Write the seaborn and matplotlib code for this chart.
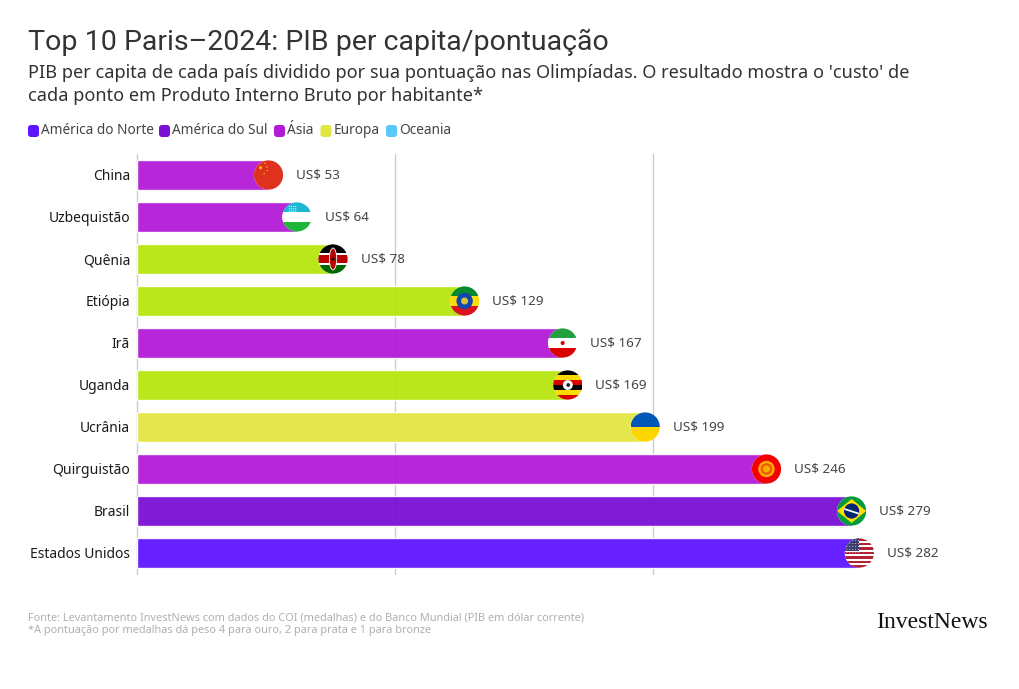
import seaborn as sns
import pandas as pd
import matplotlib.pyplot as plt
from matplotlib.patches import Ellipse, Rectangle, Polygon, FancyBboxPatch

paises = ["China", "Uzbequistão", "Quênia", "Etiópia", "Irã", "Uganda", "Ucrânia", "Quirguistão", "Brasil", "Estados Unidos"]
valores = [53, 64, 78, 129, 167, 169, 199, 246, 279, 282]
continentes = ["Ásia", "Ásia", "África", "África", "Ásia", "África", "Europa", "Ásia", "América do Sul", "América do Norte"]
legenda = ["América do Norte", "América do Sul", "Ásia", "Europa", "Oceania"]
cores = {
    "América do Norte": "#5f14ff",
    "América do Sul": "#7a10d4",
    "Ásia": "#b31ad6",
    "África": "#b5e60f",
    "Europa": "#e2e643",
    "Oceania": "#5ac8fa",
}

titulo = "Top 10 Paris\u20132024: PIB per capita/pontuação"
subtitulo = ["PIB per capita de cada país dividido por sua pontuação nas Olimpíadas. O resultado mostra o 'custo' de",
             "cada ponto em Produto Interno Bruto por habitante*"]
fonte = ["Fonte: Levantamento InvestNews com dados do COI (medalhas) e do Banco Mundial (PIB em dólar corrente)",
         "*A pontuação por medalhas dá peso 4 para ouro, 2 para prata e 1 para bronze"]

# faixas horizontais de cada bandeira, de cima para baixo (cor, altura relativa)
faixas = {
    "China": [("#e0301e", 1)],
    "Uzbequistão": [("#1eb5d0", 32), ("#ce1126", 1), ("#ffffff", 30), ("#ce1126", 1), ("#1eb53a", 32)],
    "Quênia": [("#000000", 6), ("#ffffff", 1), ("#bb0000", 6), ("#ffffff", 1), ("#006600", 6)],
    "Etiópia": [("#078930", 1), ("#fcdd09", 1), ("#da121a", 1)],
    "Irã": [("#239f40", 1), ("#ffffff", 1), ("#da0000", 1)],
    "Uganda": [("#000000", 1), ("#fcdc04", 1), ("#d90000", 1), ("#000000", 1), ("#fcdc04", 1), ("#d90000", 1)],
    "Ucrânia": [("#0057b7", 1), ("#ffd700", 1)],
    "Quirguistão": [("#f50000", 1)],
    "Brasil": [("#009b3a", 1)],
    "Estados Unidos": [("#b22234", 1), ("#ffffff", 1)] * 6 + [("#b22234", 1)],
}

sns.set_style("white")
plt.rcParams["font.family"] = ["Noto Sans", "DejaVu Sans"]

df = pd.DataFrame({"pais": paises, "valor": valores, "continente": continentes})

fig = plt.figure(figsize=(10.2, 6.89), dpi=100)
ax = fig.add_axes([137 / 1020, 1 - 574 / 689, 863 / 1020, 420 / 689])

sns.barplot(ax=ax, data=df, y="pais", x="valor", hue="continente", palette=cores, dodge=False,
            width=0.7, alpha=0.95, legend=False, saturation=1, zorder=2)

px_x = 863 / 334.5  # pixels por US$
ax.set_xlim(0, 334.5)
ax.set_ylim(9.5, -0.5)
ax.set_xticks([0, 100, 200])
ax.set_xticklabels([])
ax.set_xlabel("")
ax.set_ylabel("")
ax.grid(axis="x", color="#cccccc", linewidth=1)
ax.grid(axis="y", visible=False)
ax.set_axisbelow(True)
sns.despine(ax=ax, left=True, bottom=True, right=True, top=True)
ax.tick_params(axis="y", length=0, pad=5, labelsize=10, labelcolor="#1a1a1a")
ax.tick_params(axis="x", length=0)
for g in ax.get_xgridlines():
    g.set_clip_on(False)

rx = 14.6 / px_x
ry = 14.6 / 42
recuo = 5.2 / px_x


def desenha_bandeira(pais, cx, cy):
    disco = Ellipse((cx, cy), 2 * rx, 2 * ry, facecolor="white", edgecolor="none", zorder=3)
    ax.add_patch(disco)
    pecas = []

    def poe(p):
        p.set_zorder(4)
        ax.add_patch(p)
        p.set_clip_path(disco)
        pecas.append(p)

    def ponto(lx, ly, r, cor):
        poe(Ellipse((cx + lx * rx, cy + ly * ry), 2 * r * rx, 2 * r * ry, facecolor=cor, edgecolor="none"))

    total = sum(f[1] for f in faixas[pais])
    topo = -1.0
    for cor, h in faixas[pais]:
        alt = 2 * h / total
        poe(Rectangle((cx - rx, cy + topo * ry), 2 * rx, alt * ry, facecolor=cor, edgecolor="none"))
        topo += alt

    if pais == "China":
        ponto(-0.55, -0.5, 0.11, "#f5b81e")
        for lx, ly in [(-0.25, -0.8), (-0.1, -0.55), (-0.1, -0.3), (-0.3, -0.1)]:
            ponto(lx, ly, 0.05, "#f5b81e")
    elif pais == "Uzbequistão":
        for lx in [-0.5, -0.36, -0.22, -0.08]:
            for ly in [-0.72, -0.56, -0.4]:
                ponto(lx, ly, 0.04, "#ffffff")
    elif pais == "Quênia":
        poe(Ellipse((cx, cy), 0.5 * rx, 1.5 * ry, facecolor="#bb0000", edgecolor="#ffffff", linewidth=0.6))
        ponto(0, 0, 0.1, "#000000")
    elif pais == "Etiópia":
        ponto(0, 0, 0.56, "#0f47af")
        ponto(0, 0, 0.24, "#d8c23a")
    elif pais == "Irã":
        ponto(0, 0, 0.14, "#da0000")
    elif pais == "Uganda":
        ponto(0, 0, 0.34, "#ffffff")
        ponto(0.03, 0.0, 0.13, "#222222")
    elif pais == "Quirguistão":
        ponto(0, 0, 0.56, "#ffae00")
        ponto(0, 0, 0.4, "#f05a00")
        ponto(0, 0, 0.24, "#ffae00")
    elif pais == "Brasil":
        poe(Polygon([(cx - rx, cy), (cx, cy - 0.82 * ry), (cx + rx, cy), (cx, cy + 0.82 * ry)],
                    facecolor="#fedf00", edgecolor="none"))
        ponto(0, 0, 0.52, "#002776")
        poe(Polygon([(cx - 0.5 * rx, cy - 0.2 * ry), (cx + 0.5 * rx, cy + 0.12 * ry),
                     (cx + 0.48 * rx, cy + 0.24 * ry), (cx - 0.5 * rx, cy - 0.08 * ry)],
                    facecolor="#ffffff", edgecolor="none"))
    elif pais == "Estados Unidos":
        poe(Rectangle((cx - rx, cy - ry), rx, 8 / 13 * 2 * ry * 0.7, facecolor="#3c3b6e", edgecolor="none"))
        for lx in [-0.85, -0.65, -0.45, -0.25, -0.05]:
            for ly in [-0.85, -0.65, -0.45, -0.25, -0.05]:
                ponto(lx, ly, 0.035, "#d8d8e8")
    return pecas


for i, (pais, v) in enumerate(zip(paises, valores)):
    cx = v - recuo
    desenha_bandeira(pais, cx, i)
    ax.text(cx + 27.6 / px_x, i, f"US$ {v}", va="center", ha="left", fontsize=9.7, color="#444444", zorder=5)

# barras terminam dentro do disco da bandeira
for barra in ax.patches:
    if barra.get_zorder() == 2 and isinstance(barra, Rectangle) and barra.get_x() == 0 and barra.get_width() in valores:
        lim = Rectangle((0, -1), barra.get_width() - recuo, 12, transform=ax.transData)
        barra.set_clip_path(lim)

# camada em pixels para títulos, legenda e rodapé
top = fig.add_axes([0, 0, 1, 1], facecolor="none")
top.set_xlim(0, 1020)
top.set_ylim(689, 0)
top.axis("off")

top.text(28, 42, titulo, fontsize=20.5, family=["Roboto", "DejaVu Sans"], color="#333333", va="center", ha="left")
top.text(28.5, 73, subtitulo[0], fontsize=13.1, color="#333333", va="center", ha="left")
top.text(28.5, 96, subtitulo[1], fontsize=13.1, color="#333333", va="center", ha="left")

x_quad = [28, 159, 274, 320.5, 386]
for nome, x in zip(legenda, x_quad):
    top.add_patch(FancyBboxPatch((x + 2, 127), 7, 8, boxstyle="round,pad=2,rounding_size=3",
                                 facecolor=cores[nome], edgecolor="none"))
    top.text(x + 13.5, 131, nome, fontsize=9.8, color="#444444", va="center", ha="left")

top.text(28, 617.5, fonte[0], fontsize=7.9, color="#b0b0b0", va="center", ha="left")
top.text(28, 630.5, fonte[1], fontsize=7.9, color="#b0b0b0", va="center", ha="left")
top.text(876, 623, "InvestNews", fontsize=17, family=["Liberation Serif", "DejaVu Serif"], color="#111111",
         va="center", ha="left")

plt.savefig("out.png", dpi=100)
